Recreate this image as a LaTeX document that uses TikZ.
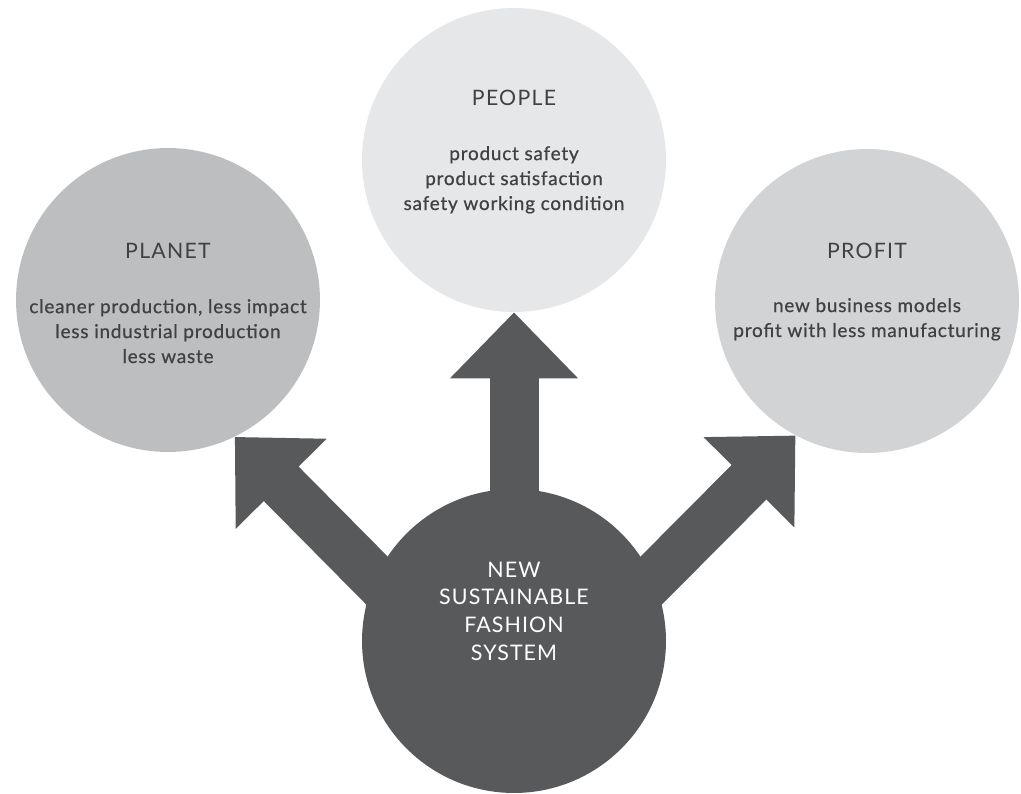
\documentclass[tikz,border=0pt]{standalone}
\usepackage{fontspec}
\setmainfont{Lato}
\newfontfamily\headfont[LetterSpace=6]{Lato}
\newfontfamily\itemfont[LetterSpace=4,FakeBold=0.6]{Lato}
\newfontfamily\corefont[LetterSpace=5]{Lato}
\usetikzlibrary{
  arrows.meta,  % Triangle tips of the block arrows
  calc,         % Feet of the arrows inside the core
}
\definecolor{coregray}{HTML}{58595B}
\definecolor{peoplegray}{HTML}{E6E7E8}
\definecolor{planetgray}{HTML}{BCBEC0}
\definecolor{profitgray}{HTML}{D1D3D4}
\definecolor{inkgray}{HTML}{414042}
\def\mydiam{6.08cm}
\tikzset{
  pillar/.style={
    circle,
    minimum size=\mydiam,
    inner sep=0pt
  },
  heading/.style={
    anchor=base,
    inner sep=0pt,
    text=inkgray,
    font=\headfont\fontsize{12.1}{14}\selectfont
  },
  % multi-line nodes: base is the baseline of the last line
  items/.style={
    anchor=base,
    align=center,
    inner sep=0pt,
    text=inkgray,
    font=\itemfont\fontsize{10.8}{14.2}\selectfont
  },
  coretext/.style={
    anchor=base,
    align=center,
    inner sep=0pt,
    text=white,
    font=\corefont\fontsize{12.2}{15.7}\selectfont
  },
  bigarrow/.style={
    draw=coregray,
    line width=0.98cm,
    -{Triangle[length=1.32cm,width=2.48cm]}
  }
}

\begin{document}
\begin{tikzpicture}[x=0.02cm,y=-0.02cm]
\useasboundingbox (0,0) rectangle (1021,794);
\node[pillar,fill=peoplegray] (people) at (514,160) {};
\node[pillar,fill=planetgray] (planet) at (168,300) {};
\node[pillar,fill=profitgray] (profit) at (867,301) {};
\node[pillar,fill=coregray]   (core)   at (514,641) {};
% feet of the arrows, inside the core
\coordinate (lfoot) at ($(core.center)+(-94,-17)$);
\coordinate (ufoot) at ($(core.center)+(0,-80)$);
\coordinate (rfoot) at ($(core.center)+(94,-17)$);
\draw[bigarrow] (lfoot) -- (planet.-64);
\draw[bigarrow] (ufoot) -- (people.south);
\draw[bigarrow] (rfoot) -- (profit.-118);
\node[heading] (peoplehead) at ($(people)+(0,-54)$) {PEOPLE};
\node[items]   (peoplelist) at ($(people)+(0,50)$)
  {product safety\\product satisfaction\\safety working condition};
\node[heading] (planethead) at ($(planet)+(0,-42)$) {PLANET};
\node[items]   (planetlist) at ($(planet)+(0,63)$)
  {cleaner production, less impact\\less industrial production\\less waste};
\node[heading] (profithead) at ($(profit)+(0,-43)$) {PROFIT};
\node[items]   (profitlist) at ($(profit)+(0,36)$)
  {new business models\\profit with less manufacturing};
\node[coretext] (coretitle) at ($(core)+(0,19)$)
  {NEW\\SUSTAINABLE\\FASHION\\SYSTEM};
\end{tikzpicture}
\end{document}
